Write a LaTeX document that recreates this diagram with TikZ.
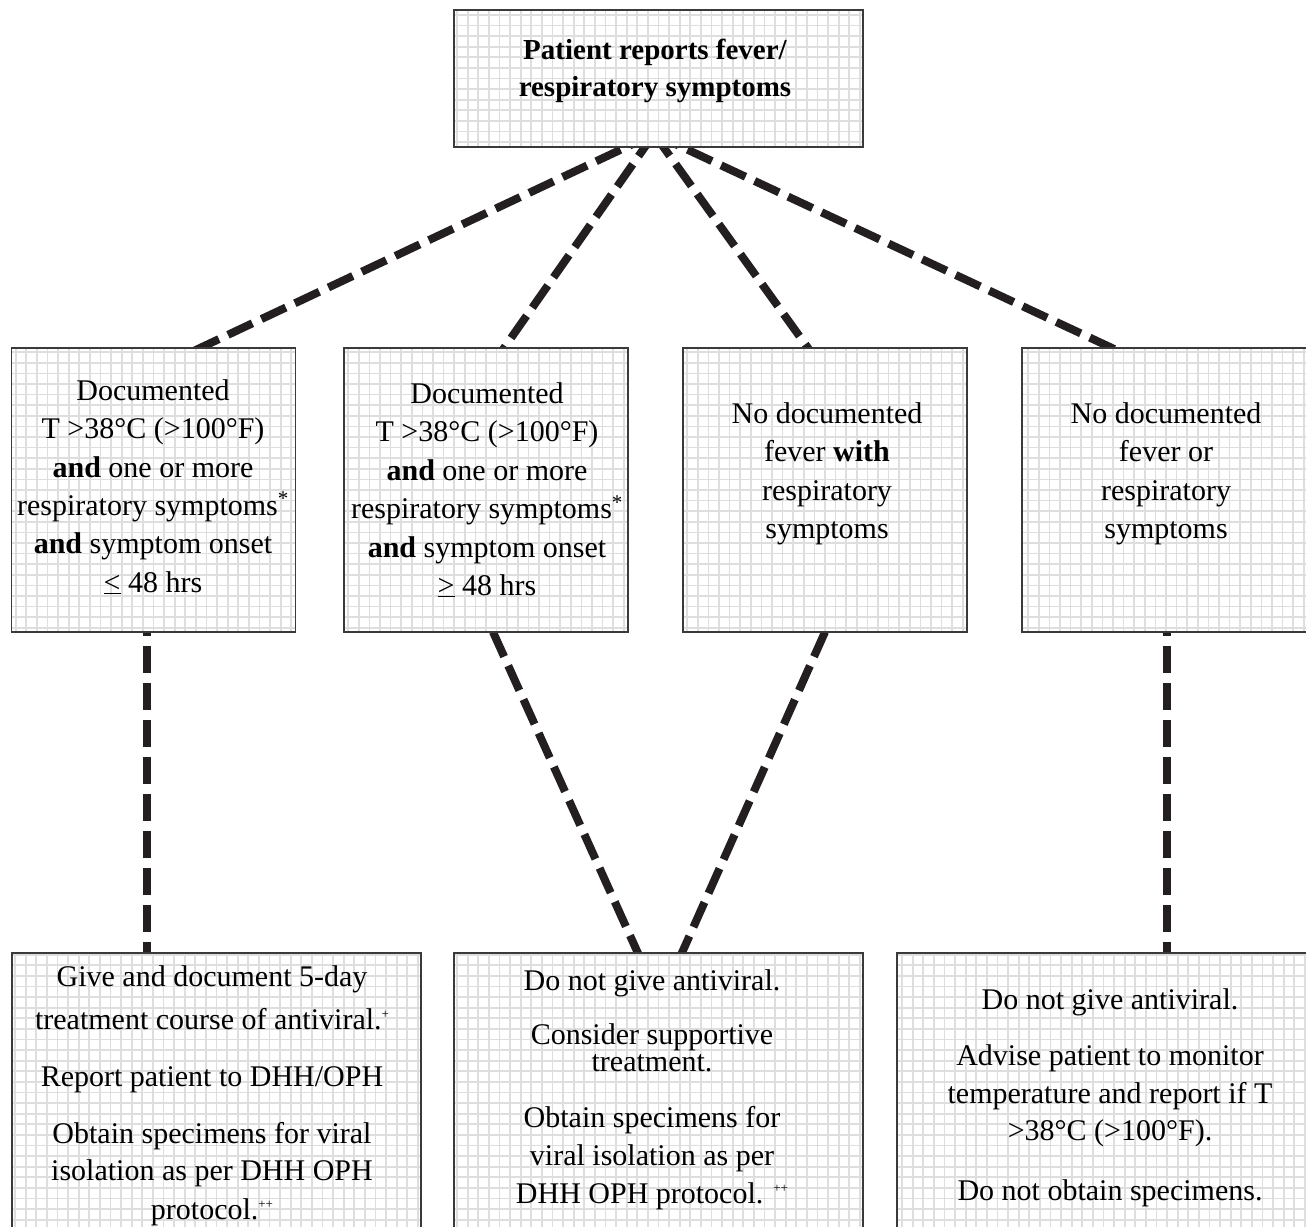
\documentclass[tikz,border=0pt]{standalone}
\usepackage{fontspec}
\setmainfont{Liberation Serif}
\usetikzlibrary{backgrounds,calc}
\definecolor{ink}{HTML}{231F20}
\definecolor{gridc}{HTML}{DEDEDE}
\definecolor{edge}{HTML}{3A3A3A}
\newcommand{\supmark}[1]{\raisebox{11pt}{\fontsize{13}{13}\selectfont #1}}
\begin{document}
\begin{tikzpicture}[x=1pt,y=-1pt,
  box/.style={draw=edge, line width=1.6pt, fill=white, inner sep=0pt, outer sep=0pt,
    path picture={\draw[gridc, line width=1.7pt] (path picture bounding box.south west) grid[step=10.6pt] (path picture bounding box.north east);}},
  rowbox/.style={box, minimum width=284pt, minimum height=284pt},
  botbox/.style={box, minimum width=409pt, minimum height=279pt},
  conn/.style={draw=ink, line width=8pt, dash pattern=on 27pt off 10pt},
  txt/.style={font=\fontsize{30}{36}\selectfont, inner sep=0pt, anchor=base},
  ttl/.style={font=\fontsize{29}{35}\selectfont\bfseries, inner sep=0pt, anchor=base}]
\useasboundingbox (0,0) rectangle (1306,1226);
\clip (0,0) rectangle (1306,1226);

% boxes
\node[box, minimum width=409pt, minimum height=137pt] (top) at (658.5,78.5) {};
\node[rowbox] (b1) at (153.5,490) {};
\node[rowbox] (b2) at (486,490) {};
\node[rowbox] (b3) at (825,490) {};
\node[rowbox, minimum width=288pt] (b4) at (1166,490) {};
\node[botbox] (bA) at (216.5,1092.5) {};
\node[botbox] (bB) at (658.5,1092.5) {};
\node[botbox, minimum width=413pt] (bC) at (1103.5,1092.5) {};

\coordinate (hub) at (654,134);
\coordinate (hubB) at (660,1002);

% connectors (behind the boxes)
\begin{scope}[on background layer]
  \draw[conn, shorten >=-8pt] (hub) -- ([xshift=46.5pt]b1.north);
  \draw[conn, shorten >=-8pt] (hub) -- ([xshift=18pt]b2.north);
  \draw[conn, shorten >=-8pt] (hub) -- ([xshift=-17pt]b3.north);
  \draw[conn, shorten >=-8pt] (hub) -- ([xshift=-54pt]b4.north);
  \draw[conn, dash phase=23pt, shorten >=-4pt] ([xshift=-6.5pt]b1.south) -- ([xshift=-6.5pt]b1.south |- bA.north);
  \draw[conn, dash phase=23pt, shorten >=-4pt] ([xshift=1pt]b4.south) -- ([xshift=1pt]b4.south |- bC.north);
  \draw[conn] ([xshift=7pt]b2.south) -- (hubB);
  \draw[conn] (b3.south) -- (hubB);
\end{scope}

% top text
\node[ttl] (t1) at (655,59) {Patient reports fever/};
\node[ttl] (t2) at (655,96) {respiratory symptoms};

% box 1
\node[txt] (a1) at (153,400) {Documented};
\node[txt] (a2) at (153,438.5) {T >38°C (>100°F)};
\node[txt] (a3) at (153,477) {\textbf{and} one or more};
\node[txt] (a4) at (153,515) {respiratory symptoms\textsuperscript{*}};
\node[txt] (a5) at (153,553.5) {\textbf{and} symptom onset};
\node[txt] (a6) at (153,592) {\underline{<} 48 hrs};

% box 2
\node[txt] (c1) at (487,403) {Documented};
\node[txt] (c2) at (487,441.5) {T >38°C (>100°F)};
\node[txt] (c3) at (487,480) {\textbf{and} one or more};
\node[txt] (c4) at (487,518.5) {respiratory symptoms\textsuperscript{*}};
\node[txt] (c5) at (487,557) {\textbf{and} symptom onset};
\node[txt] (c6) at (487,595) {\underline{>} 48 hrs};

% box 3
\node[txt] (d1) at (827,423) {No documented};
\node[txt] (d2) at (827,461.5) {fever \textbf{with}};
\node[txt] (d3) at (827,500) {respiratory};
\node[txt] (d4) at (827,538.5) {symptoms};

% box 4
\node[txt] (e1) at (1166,423) {No documented};
\node[txt] (e2) at (1166,461.5) {fever or};
\node[txt] (e3) at (1166,500) {respiratory};
\node[txt] (e4) at (1166,538.5) {symptoms};

% bottom A
\node[txt] (f1) at (212,986) {Give and document 5-day};
\node[txt] (f2) at (212,1029) {treatment course of antiviral.\supmark{+}};
\node[txt] (f3) at (212,1086) {Report patient to DHH/OPH};
\node[txt] (f4) at (212,1143) {Obtain specimens for viral};
\node[txt] (f5) at (212,1180) {isolation as per DHH OPH};
\node[txt] (f6) at (212,1219) {protocol.\supmark{++}};

% bottom B
\node[txt] (g1) at (652,990) {Do not give antiviral.};
\node[txt] (g2) at (652,1044) {Consider supportive};
\node[txt] (g3) at (652,1071) {treatment.};
\node[txt] (g4) at (652,1127) {Obtain specimens for};
\node[txt] (g5) at (652,1165) {viral isolation as per};
\node[txt] (g6) at (652,1203) {DHH OPH protocol. \supmark{++}};

% bottom C
\node[txt] (h1) at (1110,1009) {Do not give antiviral.};
\node[txt] (h2) at (1110,1065) {Advise patient to monitor};
\node[txt] (h3) at (1110,1103) {temperature and report if T};
\node[txt] (h4) at (1110,1140) {>38°C (>100°F).};
\node[txt] (h5) at (1110,1200) {Do not obtain specimens.};
\end{tikzpicture}
\end{document}
